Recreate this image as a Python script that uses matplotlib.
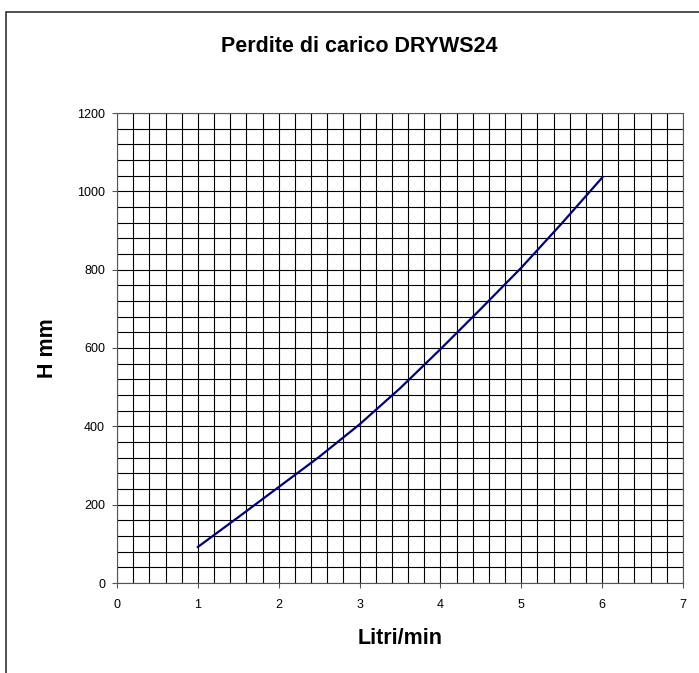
import numpy as np
import matplotlib.pyplot as plt
from matplotlib.patches import Rectangle

# Data
portata = [1.0, 1.5, 2.0, 2.5, 3.0, 3.5, 4.0, 4.5, 5.0, 5.5, 6.0]      # Litri/min
perdita = [92, 168, 245, 322, 405, 497, 597, 700, 805, 918, 1035]       # H mm
x_ticks = [0, 1, 2, 3, 4, 5, 6, 7]
y_ticks = [0, 200, 400, 600, 800, 1000, 1200]

plt.rcParams['font.family'] = ['Liberation Sans', 'DejaVu Sans']

fig = plt.figure(figsize=(6.99, 6.73), dpi=100)
W, H = 699, 673

# outer chart border (cropped on right and bottom)
fig.patches.append(Rectangle((6 / W, -0.1), 1.2, 1 - 12 / H + 0.1,
                             transform=fig.transFigure, fill=False,
                             edgecolor='#333333', linewidth=1.2))

ax = fig.add_axes([117 / W, 1 - 583 / H, (683 - 117) / W, (583 - 113) / H])

# grid every 0.2 on x and every 40 on y
for xv in np.arange(0, 7.0001, 0.2):
    ax.axvline(xv, color='black', linewidth=0.8, zorder=1)
for yv in np.arange(0, 1200.001, 40):
    ax.axhline(yv, color='black', linewidth=0.8, zorder=1)

ax.plot(portata, perdita, color='#000080', linewidth=1.6, zorder=3)

ax.set_xlim(0, 7)
ax.set_ylim(0, 1200)
ax.set_xticks(x_ticks)
ax.set_yticks(y_ticks)
ax.tick_params(direction='out', length=3.6, width=0.8, color='#555555',
               labelsize=9)
ax.tick_params(axis='x', pad=8)
ax.tick_params(axis='y', pad=5)
for s in ax.spines.values():
    s.set_color('#555555')
    s.set_linewidth(0.8)

fig.text(400 / W, 1 - 638 / H, 'Litri/min', ha='center', va='center',
         fontsize=15.5, fontweight='bold')
fig.text(47.5 / W, 1 - 348 / H, 'H mm', ha='center', va='center',
         rotation=90, fontsize=15.5, fontweight='bold')
fig.text(359 / W, 1 - 46 / H, 'Perdite di carico DRYWS24', ha='center',
         va='center', fontsize=15.5, fontweight='bold')

fig.savefig('out.png', dpi=100)
